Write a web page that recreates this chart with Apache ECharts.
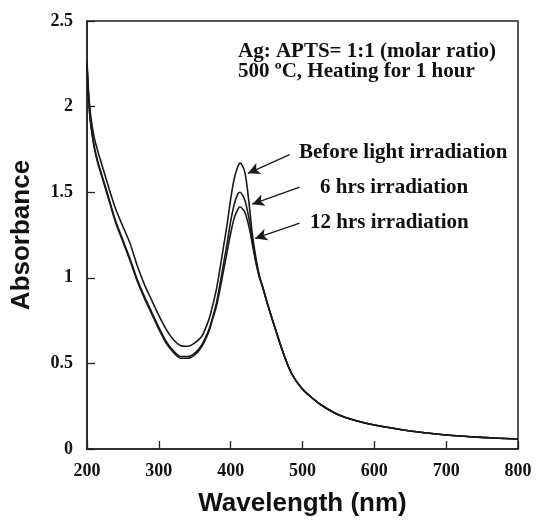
<!DOCTYPE html>
<html>
<head>
<meta charset="utf-8">
<script src="https://cdn.jsdelivr.net/npm/echarts@6/dist/echarts.min.js"></script>
<style>
  html, body { margin: 0; padding: 0; background: #fff; }
  #main { width: 537px; height: 522px; }
</style>
</head>
<body>
<div id="main"></div>
<script>
// wavelength grid (nm)
var wavelength = [200, 202, 205, 210, 215, 220, 230, 240, 250, 260, 270, 280, 290, 300, 310, 320, 330, 340, 350, 360,
    370, 375, 380, 385, 390, 395, 400, 405, 410, 413, 417, 420, 423, 427, 430, 435, 440, 445, 450, 457,
    465, 470, 475, 480, 485, 490, 495, 500, 510, 525, 550, 575, 600, 650, 700, 750, 800];

// shared tail from 445 nm on, the three spectra overlap
var tail = [0.94, 0.865, 0.77, 0.665, 0.60, 0.54, 0.485, 0.44, 0.405, 0.375, 0.35, 0.31, 0.26, 0.20, 0.165, 0.14, 0.105, 0.082, 0.068, 0.058];

var beforeIrr = [2.27, 2.10, 1.95, 1.82, 1.74, 1.67, 1.53, 1.40, 1.30, 1.20, 1.07, 0.96, 0.87, 0.78, 0.70, 0.64, 0.605, 0.60, 0.62, 0.66,
    0.76, 0.84, 0.93, 1.05, 1.18, 1.31, 1.46, 1.58, 1.65, 1.67, 1.65, 1.61, 1.53, 1.38, 1.26, 1.12, 1.01].concat(tail);

var hrs6 = [2.25, 2.07, 1.91, 1.77, 1.68, 1.61, 1.47, 1.33, 1.22, 1.11, 0.99, 0.89, 0.80, 0.71, 0.63, 0.575, 0.54, 0.54, 0.56, 0.61,
    0.70, 0.77, 0.85, 0.96, 1.08, 1.20, 1.33, 1.43, 1.49, 1.50, 1.48, 1.45, 1.40, 1.31, 1.22, 1.10, 1.01].concat(tail);

var hrs12 = [2.24, 2.06, 1.90, 1.76, 1.67, 1.60, 1.46, 1.32, 1.21, 1.10, 0.98, 0.88, 0.79, 0.70, 0.62, 0.565, 0.53, 0.53, 0.55, 0.60,
    0.69, 0.76, 0.83, 0.93, 1.04, 1.15, 1.26, 1.35, 1.40, 1.415, 1.40, 1.38, 1.34, 1.27, 1.20, 1.09, 1.00].concat(tail);

var seriesNames = ['Before light irradiation', '6 hrs irradiation', '12 hrs irradiation'];

// arrows: [label start, point on curve] in data units
var arrows = [
    [[482, 1.72], [424, 1.61]],
    [[496, 1.53], [430, 1.43]],
    [[496, 1.32], [434, 1.23]]
];

function pairs(ys) {
    return wavelength.map(function (x, i) { return [x, ys[i]]; });
}

(function () {
    var chart = echarts.init(document.getElementById('main'));
    var serif = '"Liberation Serif", "Times New Roman", serif';
    var sans = '"Liberation Sans", Arial, sans-serif';

    var all = [beforeIrr, hrs6, hrs12];
    var series = all.map(function (ys, i) {
        return {
            name: seriesNames[i],
            type: 'line',
            data: pairs(ys),
            smooth: 0.25,
            symbol: 'none',
            lineStyle: { color: '#1a1a1a', width: 1.6 },
            markLine: {
                silent: true,
                symbol: ['none', 'arrow'],
                symbolSize: [9, 12],
                lineStyle: { color: '#1a1a1a', width: 1.3, type: 'solid' },
                label: { show: false },
                data: [[{ coord: arrows[i][0] }, { coord: arrows[i][1] }]]
            }
        };
    });

    var option = {
        backgroundColor: '#fff',
        animation: false,
        grid: { left: 87, right: 19, top: 21, bottom: 70, show: true, borderColor: '#222', borderWidth: 1.5 },
        xAxis: {
            type: 'value', min: 200, max: 800, interval: 100,
            name: 'Wavelength (nm)', nameLocation: 'middle', nameGap: 42,
            nameTextStyle: { fontFamily: sans, fontWeight: 'bold', fontSize: 26, color: '#111' },
            axisLine: { lineStyle: { color: '#222', width: 1.5 } },
            axisTick: { inside: true, length: 8, lineStyle: { color: '#222', width: 1.3 } },
            axisLabel: { margin: 13, fontFamily: serif, fontWeight: 'bold', fontSize: 18, color: '#111' },
            splitLine: { show: false }
        },
        yAxis: {
            type: 'value', min: 0, max: 2.5, interval: 0.5,
            name: 'Absorbance', nameLocation: 'middle', nameGap: 52,
            nameTextStyle: { fontFamily: sans, fontWeight: 'bold', fontSize: 26, color: '#111' },
            axisLine: { show: true, lineStyle: { color: '#222', width: 1.5 } },
            axisTick: { show: true, inside: true, length: 8, lineStyle: { color: '#222', width: 1.3 } },
            axisLabel: { margin: 14, fontFamily: serif, fontWeight: 'bold', fontSize: 18, color: '#111' },
            splitLine: { show: false }
        },
        graphic: [
            { type: 'text', left: 238, top: 41, style: { text: 'Ag: APTS= 1:1 (molar ratio)', font: 'bold 21px ' + serif, fill: '#111' } },
            { type: 'text', left: 238, top: 61, style: { text: '500 ºC, Heating for 1 hour', font: 'bold 21px ' + serif, fill: '#111' } },
            { type: 'text', left: 299, top: 142, style: { text: seriesNames[0], font: 'bold 21px ' + serif, fill: '#111' } },
            { type: 'text', left: 320, top: 177, style: { text: seriesNames[1], font: 'bold 21px ' + serif, fill: '#111' } },
            { type: 'text', left: 310, top: 212, style: { text: seriesNames[2], font: 'bold 21px ' + serif, fill: '#111' } }
        ],
        series: series
    };
    chart.setOption(option);
})();
</script>
</body>
</html>
